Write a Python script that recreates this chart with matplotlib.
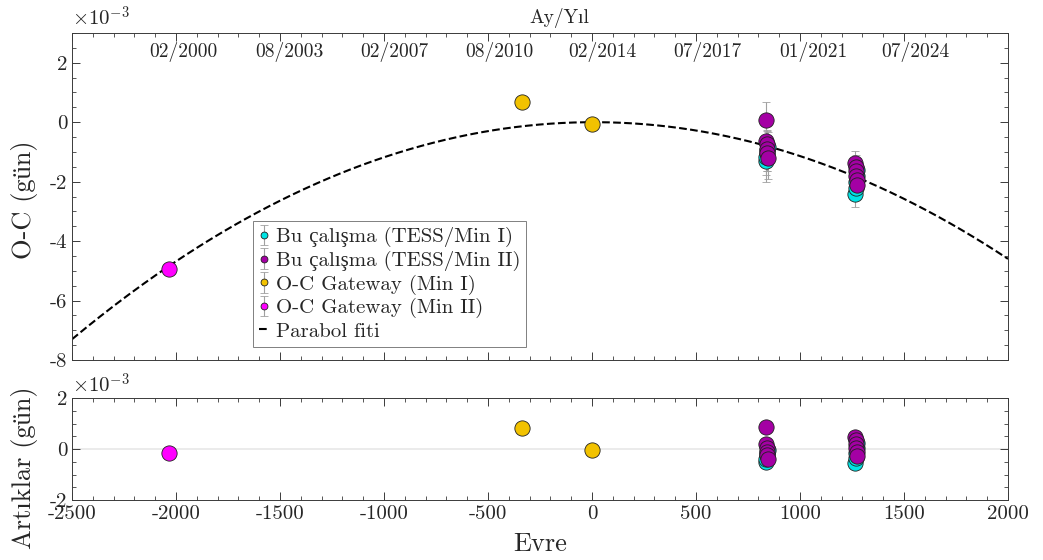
import numpy as np
import matplotlib
matplotlib.use('Agg')
import matplotlib.pyplot as plt
from matplotlib.ticker import MultipleLocator

plt.rcParams['font.family'] = ['cmr10', 'Liberation Serif']
plt.rcParams['mathtext.fontset'] = 'cm'
plt.rcParams['axes.unicode_minus'] = False
plt.rcParams['axes.formatter.use_mathtext'] = False

# O-C values in units of 1e-3 day
tess1_epoch = [836, 838, 840, 842, 844, 1266, 1268, 1270, 1272, 1274]
tess1_oc = [-1.32, -1.18, -1.05, -0.92, -0.82, -2.42, -2.20, -2.00, -1.80, -1.60]
tess1_err = [0.7, 0.6, 0.6, 0.5, 0.5, 0.45, 0.4, 0.4, 0.4, 0.4]
tess1_res = [-0.52, -0.38, -0.25, -0.12, -0.02, -0.56, -0.35, -0.15, 0.05, 0.24]

tess2_epoch = [835.5, 837.5, 839.5, 841.5, 843.5, 845.5, 1265.5, 1267.5, 1269.5, 1271.5, 1273.5, 1275.5]
tess2_oc = [0.08, -0.62, -0.75, -0.90, -1.05, -1.20, -1.38, -1.50, -1.65, -1.80, -1.95, -2.10]
tess2_err = [0.6, 0.5, 0.5, 0.6, 0.6, 0.7, 0.4, 0.4, 0.4, 0.4, 0.4, 0.4]
tess2_res = [0.88, 0.18, 0.05, -0.10, -0.25, -0.38, 0.46, 0.34, 0.19, 0.04, -0.11, -0.26]

gw1_epoch = [-335, 0]
gw1_oc = [0.68, -0.05]
gw1_err = [0.05, 0.05]
gw1_res = [0.82, -0.05]

gw2_epoch = [-2035]
gw2_oc = [-4.95]
gw2_err = [0.05]
gw2_res = [-0.15]

# parabola fit: oc = c - a*(E - e0)^2  (1e-3 day)
fit_a = 1.16e-6
fit_e0 = 9.0
fit_c = 0.0

date_labels = ['02/2000', '08/2003', '02/2007', '08/2010', '02/2014', '07/2017', '01/2021', '07/2024']
date_epochs = [-1966, -1457, -952, -447, 48, 553, 1062, 1553]

c_tess1 = '#00e5e5'
c_tess2 = '#a400a4'
c_gw1 = '#f2c200'
c_gw2 = '#ff00ff'
ecol = '#a0a0a0'
axcol = '#3a3a3a'
txtcol = '#262626'

fig = plt.figure(figsize=(10.43, 5.6), dpi=100)
ax1 = fig.add_axes([72/1043, 200/560, 936/1043, 327/560])
ax2 = fig.add_axes([72/1043, 60/560, 936/1043, 102/560])

ms = 11
series = [
    (tess1_epoch, tess1_oc, tess1_err, tess1_res, c_tess1, 'Bu çalışma (TESS/Min I)'),
    (tess2_epoch, tess2_oc, tess2_err, tess2_res, c_tess2, 'Bu çalışma (TESS/Min II)'),
    (gw1_epoch, gw1_oc, gw1_err, gw1_res, c_gw1, 'O-C Gateway (Min I)'),
    (gw2_epoch, gw2_oc, gw2_err, gw2_res, c_gw2, 'O-C Gateway (Min II)'),
]
handles = []
for ep, oc, err, res, col, lab in series:
    h = ax1.errorbar(ep, oc, yerr=err, fmt='o', ms=ms,
                     mfc=col, mec='#202020', mew=0.6, ecolor=ecol, elinewidth=0.8,
                     capsize=3, capthick=0.8, label=lab)
    handles.append(h)
    ax2.plot(ep, res, 'o', ms=ms, mfc=col, mec='#202020', mew=0.6)

xx = np.linspace(-2500, 2000, 400)
fl, = ax1.plot(xx, fit_c - fit_a * (xx - fit_e0) ** 2, '--', color='black', lw=1.5,
               label='Parabol fiti', zorder=1)
handles.append(fl)

ax2.axhline(0, color='#e8e8e8', lw=1.2, zorder=0)

for ax in (ax1, ax2):
    ax.set_xlim(-2500, 2000)
    ax.xaxis.set_major_locator(MultipleLocator(500))
    ax.xaxis.set_minor_locator(MultipleLocator(100))
    ax.yaxis.set_major_locator(MultipleLocator(2))
    ax.yaxis.set_minor_locator(MultipleLocator(0.5))
    ax.tick_params(which='both', direction='in', top=True, right=True, colors=axcol,
                   labelcolor=txtcol, labelsize=15)
    ax.tick_params(which='major', length=6, width=0.7)
    ax.tick_params(which='minor', length=3, width=0.6)
    for sp in ax.spines.values():
        sp.set_color(axcol)
        sp.set_linewidth(0.7)
    # exponent label like the offset text
    ax.text(0, 1.01, r'$\times10^{-3}$', transform=ax.transAxes, ha='left', va='bottom',
            fontsize=15, color=txtcol)

ax1.set_ylim(-8, 3)
ax1.tick_params(labelbottom=False)
ax2.set_ylim(-2, 2)

ax1.set_ylabel('O-C (gün)', fontsize=19, color=txtcol)
ax1.yaxis.set_label_coords(-0.036, 0.49)
ax2.set_ylabel('Artıklar (gün)', fontsize=19, color=txtcol)
ax2.yaxis.set_label_coords(-0.036, 0.32)
ax2.set_xlabel('Evre', fontsize=19, color=txtcol, labelpad=7)

# dates along the top of the upper panel
for lab, ep in zip(date_labels, date_epochs):
    ax1.text(ep, 0.942, lab, transform=ax1.get_xaxis_transform(), ha='center', va='center',
             fontsize=14, color=txtcol)
ax1.text(0.521, 1.047, 'Ay/Yıl', transform=ax1.transAxes, ha='center', va='center',
         fontsize=14, color=txtcol)

leg = ax1.legend(handles=handles, loc='upper left', bbox_to_anchor=(0.193, 0.425),
                 fontsize=15, markerscale=0.45, handlelength=0.5, handletextpad=0.3,
                 borderpad=0.3, labelspacing=0.17, borderaxespad=0, fancybox=False,
                 edgecolor='#808080', framealpha=1)
leg.get_frame().set_linewidth(0.7)
for t in leg.get_texts():
    t.set_color(txtcol)

fig.savefig('out.png', dpi=100)
